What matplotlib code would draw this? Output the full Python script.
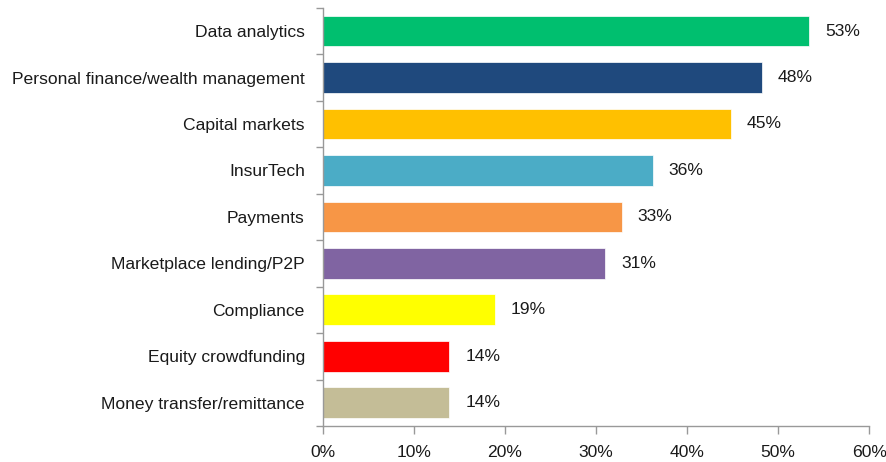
import numpy as np
import matplotlib
matplotlib.use('Agg')
import matplotlib.pyplot as plt
from matplotlib import ticker

# Survey data, top to bottom as in the chart (bar lengths)
categories = ['Data analytics', 'Personal finance/wealth management', 'Capital markets',
              'InsurTech', 'Payments', 'Marketplace lending/P2P', 'Compliance',
              'Equity crowdfunding', 'Money transfer/remittance']
values = [53.4, 48.2, 44.8, 36.2, 32.8, 31.0, 18.9, 13.9, 13.9]
colors = ['#00BF6F', '#1F497D', '#FFC000', '#4BACC6', '#F79646',
          '#8064A2', '#FFFF00', '#FF0000', '#C4BD97']

plt.rcParams['font.family'] = ['Liberation Sans', 'DejaVu Sans']
FS = 12.6

fig = plt.figure(figsize=(8.87, 4.62), dpi=100)
ax = fig.add_axes([0.364, 0.078, 0.616, 0.905])

y = np.arange(len(categories))
ax.barh(y, values, height=0.66, color=colors, edgecolor='white', linewidth=0.5)
for yi, v in zip(y, values):
    ax.text(v + 1.75, yi, f'{round(v)}%', va='center', ha='left', fontsize=FS, color='#1a1a1a')

ax.set_ylim(len(categories) - 0.5, -0.5)
ax.set_xlim(0, 60)
ax.set_yticks(y)
ax.set_yticklabels(categories, fontsize=FS, color='#1a1a1a')
ax.set_yticks(np.arange(-0.5, len(categories)), minor=True)
ax.tick_params(axis='y', which='major', length=0, pad=13)
ax.tick_params(axis='y', which='minor', length=5, color='#999999', width=1)

ax.set_xticks(np.arange(0, 61, 10))
ax.xaxis.set_major_formatter(ticker.FuncFormatter(lambda x, p: f'{x:.0f}%'))
ax.tick_params(axis='x', length=6, color='#999999', width=1, labelsize=FS, labelcolor='#1a1a1a', pad=8)

for side in ['top', 'right']:
    ax.spines[side].set_visible(False)
for side in ['left', 'bottom']:
    ax.spines[side].set_color('#999999')
    ax.spines[side].set_linewidth(1)

fig.savefig('out.png', dpi=100)
